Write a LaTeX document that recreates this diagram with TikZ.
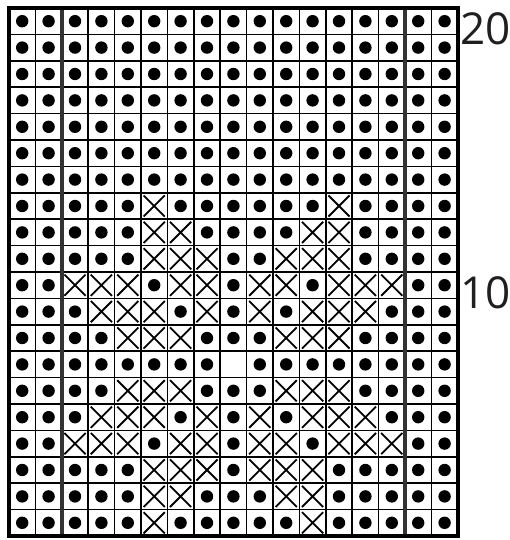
\documentclass[tikz,border=0pt]{standalone}
\usepackage{fontspec}
\newfontfamily\labelfont{Open Sans}
\tikzset{
  gridline/.style={line width=1.6pt, draw=black},
  heavyline/.style={line width=3.5pt, draw=black!80},
  midline/.style={line width=2.4pt, draw=black},
  outerbox/.style={line width=4.2pt, draw=black},
  dotmark/.style={fill=black},
  crossmark/.style={line width=1.8pt, draw=black},
  rowlabel/.style={anchor=base west, inner sep=0pt, text=black!88, font=\labelfont\fontsize{44}{44}\selectfont}
}
\begin{document}
\begin{tikzpicture}[x=1pt,y=-1pt]
\useasboundingbox (0,0) rectangle (510,540);
\fill[white] (0,0) rectangle (510,540);
% dots in every cell
\foreach \r in {1,...,20}
  \foreach \c in {1,...,17}
    \fill[dotmark] ({9+(\c-0.5)*26.4},{8+(20.5-\r)*26.4}) circle[radius=6.2pt];
% blank cell (row 7, col 9)
\fill[white] ({9+(9-0.5)*26.4},{8+(20.5-7)*26.4}) circle[radius=7.5pt];
% crosses
\foreach \r/\cols in {13/{6,13}, 12/{6,7,12,13}, 11/{6,7,8,11,12,13},
  10/{3,4,5,7,8,10,11,13,14,15}, 9/{4,5,6,8,10,12,13,14}, 8/{5,6,7,11,12,13},
  6/{5,6,7,11,12,13}, 5/{4,5,6,8,10,12,13,14}, 4/{3,4,5,7,8,10,11,13,14,15},
  3/{6,7,8,10,11,12}, 2/{6,7,11,12}, 1/{6,12}}
  \foreach \c in \cols {
    \fill[white] ({9+(\c-0.5)*26.4},{8+(20.5-\r)*26.4}) circle[radius=7.5pt];
    \draw[crossmark] ({9+(\c-1)*26.4+2.6},{8+(20-\r)*26.4+2.6}) -- ++(21.2,21.2)
      ++(-21.2,0) -- ++(21.2,-21.2);
  }
% grid lines
\foreach \i in {1,...,16}
  \draw[gridline] ({9+\i*26.4},8) -- ({9+\i*26.4},536);
\foreach \j in {1,...,19}
  \draw[gridline] (9,{8+\j*26.4}) -- (457.8,{8+\j*26.4});
% heavy lines
\draw[midline] (9,{8+10*26.4}) -- (457.8,{8+10*26.4});
\draw[heavyline] ({9+2*26.4},8) -- ({9+2*26.4},536);
\draw[heavyline] ({9+15*26.4},8) -- ({9+15*26.4},536);
\draw[outerbox] (9,8) rectangle (457.8,536);
% row labels
\node[rowlabel] (l20) at (460,45) {20};
\node[rowlabel] (l10) at (460,308) {10};
\end{tikzpicture}
\end{document}
